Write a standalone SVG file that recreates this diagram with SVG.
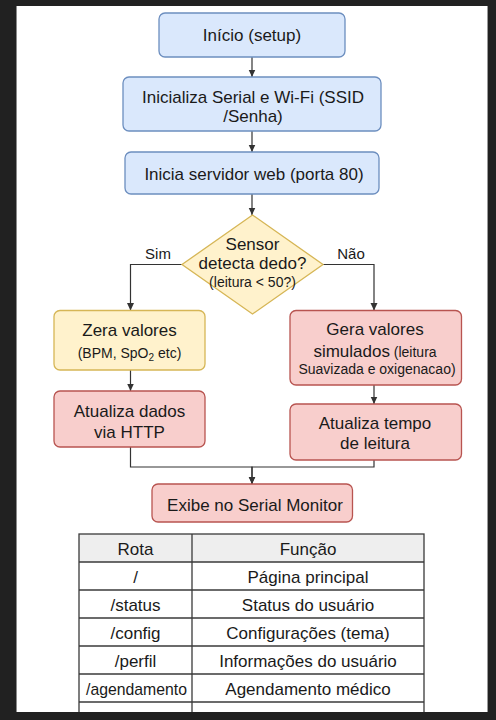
<svg xmlns="http://www.w3.org/2000/svg" width="496" height="720" viewBox="0 0 496 720">
<defs>
<marker id="arr" markerWidth="8" markerHeight="8" refX="7.5" refY="4" orient="auto" markerUnits="userSpaceOnUse">
<path d="M0,0.5 L7.5,4 L0,7.5 Z" fill="#333333"/>
</marker>
<style>
text{font-family:"Liberation Sans",Arial,sans-serif;fill:#1a1a1a;text-anchor:middle}
.t{font-size:17px}
.s{font-size:14px}
.blue{fill:#dae8fc;stroke:#6c8ebf;stroke-width:1.3}
.yel{fill:#fff2cc;stroke:#d6b656;stroke-width:1.3}
.red{fill:#f8cecc;stroke:#b85450;stroke-width:1.3}
.edge{fill:none;stroke:#333333;stroke-width:1.2}
.tl{stroke:#3a3a3a;stroke-width:1.3;fill:none}
</style>
</defs>
<rect x="0" y="0" width="496" height="720" fill="#212121"/>
<rect x="16.5" y="6" width="471" height="706" fill="#ffffff"/>
<line x1="16.5" y1="6" x2="16.5" y2="712" stroke="#8a8a8a" stroke-width="1"/>
<line x1="487.5" y1="6" x2="487.5" y2="712" stroke="#9a9a9a" stroke-width="1"/>

<g id="connectors">
<path class="edge" d="M252,57 V77" marker-end="url(#arr)"/>
<path class="edge" d="M252,131 V152" marker-end="url(#arr)"/>
<path class="edge" d="M252,194 V215" marker-end="url(#arr)"/>
<path class="edge" d="M182,264.5 H130.5 V310.5" marker-end="url(#arr)"/>
<path class="edge" d="M323,264.5 H374 V310.5" marker-end="url(#arr)"/>
<path class="edge" d="M130.5,370 V391" marker-end="url(#arr)"/>
<path class="edge" d="M374,385 V404" marker-end="url(#arr)"/>
<path class="edge" d="M130.5,447 V467 H252 V484" marker-end="url(#arr)"/>
<path class="edge" d="M374,460 V467 H252 V484" marker-end="url(#arr)"/>
<text class="t" x="158" y="259" style="font-size:15px">Sim</text>
<text class="t" x="351" y="259" style="font-size:15px">Não</text>
</g>

<g id="inicio">
<rect class="blue" x="159" y="13" width="186" height="44" rx="6"/>
<text class="t" x="252" y="41">Início (setup)</text>
</g>
<g id="inicializa">
<rect class="blue" x="123" y="77" width="258" height="54" rx="6"/>
<text class="t" x="253" y="103">Inicializa Serial e Wi-Fi (SSID</text>
<text class="t" x="253" y="122">/Senha)</text>
</g>
<g id="servidor">
<rect class="blue" x="125" y="152" width="254" height="42" rx="6"/>
<text class="t" x="254" y="180">Inicia servidor web (porta 80)</text>
</g>
<g id="sensor">
<polygon class="yel" points="252.5,215 323,264.5 252.5,314 182,264.5"/>
<text class="t" x="252.5" y="250">Sensor</text>
<text class="t" x="252.5" y="269">detecta dedo?</text>
<text class="s" x="252.5" y="287">(leitura &lt; 50?)</text>
</g>
<g id="zera">
<rect class="yel" x="54" y="310.5" width="151" height="59.5" rx="6"/>
<text class="t" x="129.5" y="336">Zera valores</text>
<text class="s" x="129.5" y="358">(BPM, SpO<tspan font-size="10" dy="3">2</tspan><tspan dy="-3"> etc)</tspan></text>
</g>
<g id="gera">
<rect class="red" x="290" y="310.5" width="171.5" height="74.5" rx="6"/>
<text class="t" x="375" y="335">Gera valores</text>
<text class="t" x="375" y="357">simulados<tspan font-size="14px"> (leitura</tspan></text>
<text class="s" x="377" y="374">Suavizada e oxigenacao)</text>
</g>
<g id="atualiza-dados">
<rect class="red" x="54" y="391" width="151" height="56" rx="6"/>
<text class="t" x="129.5" y="417">Atualiza dados</text>
<text class="t" x="129.5" y="438">via HTTP</text>
</g>
<g id="atualiza-tempo">
<rect class="red" x="290" y="404" width="171.5" height="56" rx="6"/>
<text class="t" x="375" y="429">Atualiza tempo</text>
<text class="t" x="375" y="449">de leitura</text>
</g>
<g id="exibe">
<rect class="red" x="152" y="484" width="200.5" height="38" rx="6"/>
<text class="t" x="255" y="511">Exibe no Serial Monitor</text>
</g>

<g id="tabela">
<rect x="79" y="534" width="345" height="28" fill="#eeeeee"/>
<rect class="tl" x="79" y="534" width="345" height="190"/>
<line class="tl" x1="192" y1="534" x2="192" y2="724"/>
<line class="tl" x1="79" y1="562" x2="424" y2="562"/>
<line class="tl" x1="79" y1="590" x2="424" y2="590"/>
<line class="tl" x1="79" y1="618" x2="424" y2="618"/>
<line class="tl" x1="79" y1="646" x2="424" y2="646"/>
<line class="tl" x1="79" y1="674" x2="424" y2="674"/>
<line class="tl" x1="79" y1="702" x2="424" y2="702"/>
<text class="t" x="135.5" y="555">Rota</text>
<text class="t" x="308" y="555">Função</text>
<text class="t" x="135.5" y="583">/</text>
<text class="t" x="308" y="583">Página principal</text>
<text class="t" x="135.5" y="611">/status</text>
<text class="t" x="308" y="611">Status do usuário</text>
<text class="t" x="135.5" y="639">/config</text>
<text class="t" x="308" y="639">Configurações (tema)</text>
<text class="t" x="135.5" y="667">/perfil</text>
<text class="t" x="308" y="667">Informações do usuário</text>
<text class="t" x="136.5" y="695" textLength="101" lengthAdjust="spacingAndGlyphs">/agendamento</text>
<text class="t" x="308" y="695">Agendamento médico</text>
</g>
<rect x="0" y="712" width="496" height="8" fill="#212121"/>
</svg>
